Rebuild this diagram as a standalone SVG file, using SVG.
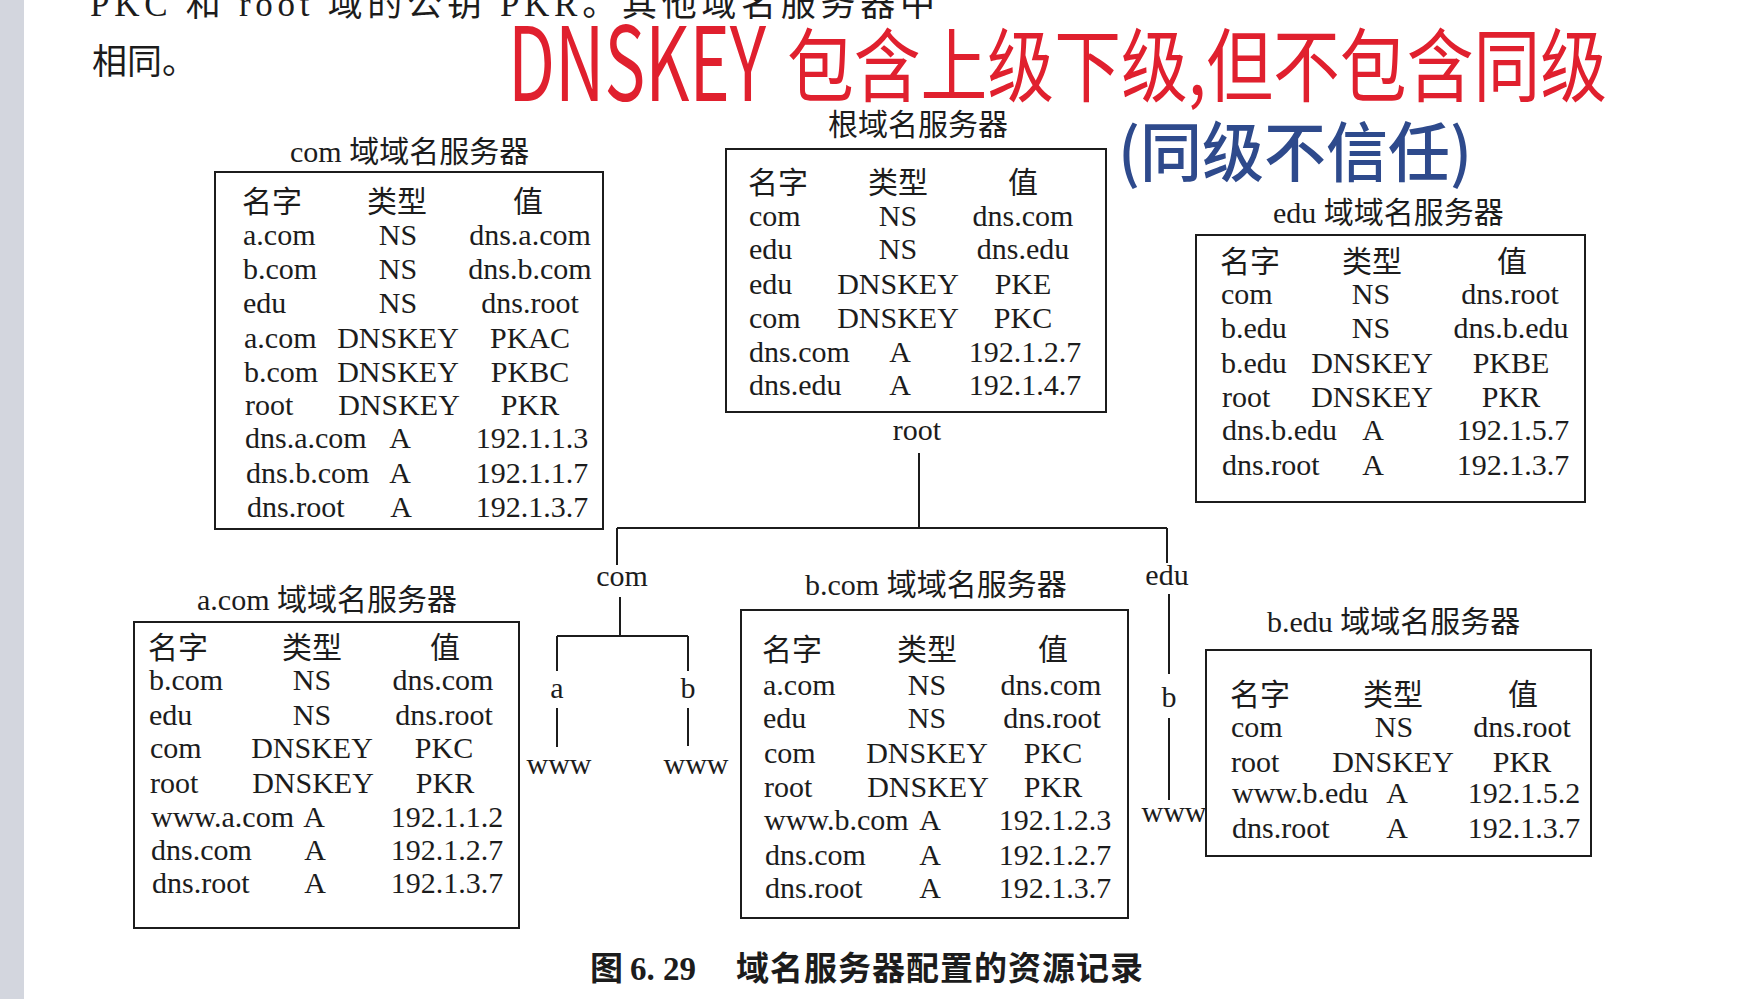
<svg xmlns="http://www.w3.org/2000/svg" width="1762" height="999" viewBox="0 0 1762 999">
  <style>
    .p { font-family: "Liberation Serif", "Noto Sans CJK SC", serif; font-size: 30px; fill: #1c1c1c; }
    .m { text-anchor: middle; }
    .body { font-size: 35px; }
    .num { font-weight: 700; font-size: 33px; }
    .box { fill: none; stroke: #1c1c1c; stroke-width: 2; }
    .ln { fill: none; stroke: #1c1c1c; stroke-width: 2; }
    .cap { font-family: "Noto Sans CJK SC", sans-serif; font-weight: 700; font-size: 33px; fill: #1c1c1c; }
    .red { font-family: "Noto Sans CJK SC", sans-serif; fill: #e0202e; }
    .blue { font-family: "Noto Sans CJK SC", sans-serif; fill: #2e4a8c; font-weight: 500; }
  </style>
  <rect width="1762" height="999" fill="#ffffff"/>
  <rect x="0" y="0" width="24" height="999" fill="#d3d6de"/>

  <!-- running text of the page -->
  <text class="p body" x="90" y="16" textLength="845" lengthAdjust="spacing">PKC 和 root 域的公钥 PKR。其他域名服务器中</text>
  <text class="p body" x="92" y="74">相同。</text>

  <!-- handwritten notes -->
  <text class="red" x="508" y="101" font-size="103" textLength="258" lengthAdjust="spacingAndGlyphs">DNSKEY</text>
  <text class="red" x="787" y="95" font-size="80" textLength="820" lengthAdjust="spacingAndGlyphs">包含上级下级,但不包含同级</text>
  <text class="blue" x="1118" y="176" font-size="65" textLength="354" lengthAdjust="spacingAndGlyphs">(同级不信任)</text>

  <!-- tree connectors -->
  <g id="connectors">
    <path class="ln" d="M919 453 V528 M617 528 H1167 M617 528 V565 M620 597 V636 M557 636 H688 M557 636 V671 M688 636 V671 M557 708 V747 M688 708 V746 M1167 528 V563 M1169 594 V674 M1169 718 V800"/>
    <text class="p m" x="917" y="440">root</text>
    <text class="p m" x="622" y="586">com</text>
    <text class="p m" x="557" y="698">a</text>
    <text class="p m" x="688" y="698">b</text>
    <text class="p m" x="559" y="774">www</text>
    <text class="p m" x="696" y="774">www</text>
    <text class="p m" x="1167" y="585">edu</text>
    <text class="p m" x="1169" y="707">b</text>
    <text class="p m" x="1174" y="822">www</text>
  </g>

  <!-- root name server -->
  <g id="root-server">
    <text class="p" x="828" y="135">根域名服务器</text>
    <rect class="box" x="726" y="149" width="380" height="263"/>
    <text class="p" x="748" y="193">名字</text><text class="p" x="868" y="193">类型</text><text class="p" x="1008" y="193">值</text>
    <text class="p" x="749" y="226">com</text><text class="p m" x="898" y="226">NS</text><text class="p m" x="1023" y="226">dns.com</text>
    <text class="p" x="749" y="259">edu</text><text class="p m" x="898" y="259">NS</text><text class="p m" x="1023" y="259">dns.edu</text>
    <text class="p" x="749" y="294">edu</text><text class="p m" x="898" y="294">DNSKEY</text><text class="p m" x="1023" y="294">PKE</text>
    <text class="p" x="749" y="328">com</text><text class="p m" x="898" y="328">DNSKEY</text><text class="p m" x="1023" y="328">PKC</text>
    <text class="p" x="749" y="362">dns.com</text><text class="p m" x="900" y="362">A</text><text class="p m" x="1025" y="362">192.1.2.7</text>
    <text class="p" x="749" y="395">dns.edu</text><text class="p m" x="900" y="395">A</text><text class="p m" x="1025" y="395">192.1.4.7</text>
  </g>

  <!-- com name server -->
  <g id="com-server">
    <text class="p" x="290" y="162">com 域域名服务器</text>
    <rect class="box" x="215" y="172" width="388" height="357"/>
    <text class="p" x="242" y="212">名字</text><text class="p" x="367" y="212">类型</text><text class="p" x="513" y="212">值</text>
    <text class="p" x="243" y="245">a.com</text><text class="p m" x="398" y="245">NS</text><text class="p m" x="530" y="245">dns.a.com</text>
    <text class="p" x="243" y="279">b.com</text><text class="p m" x="398" y="279">NS</text><text class="p m" x="530" y="279">dns.b.com</text>
    <text class="p" x="243" y="313">edu</text><text class="p m" x="398" y="313">NS</text><text class="p m" x="530" y="313">dns.root</text>
    <text class="p" x="244" y="348">a.com</text><text class="p m" x="398" y="348">DNSKEY</text><text class="p m" x="530" y="348">PKAC</text>
    <text class="p" x="244" y="382">b.com</text><text class="p m" x="398" y="382">DNSKEY</text><text class="p m" x="530" y="382">PKBC</text>
    <text class="p" x="245" y="415">root</text><text class="p m" x="399" y="415">DNSKEY</text><text class="p m" x="530" y="415">PKR</text>
    <text class="p" x="245" y="448">dns.a.com</text><text class="p m" x="400" y="448">A</text><text class="p m" x="532" y="448">192.1.1.3</text>
    <text class="p" x="246" y="483">dns.b.com</text><text class="p m" x="400" y="483">A</text><text class="p m" x="532" y="483">192.1.1.7</text>
    <text class="p" x="247" y="517">dns.root</text><text class="p m" x="401" y="517">A</text><text class="p m" x="532" y="517">192.1.3.7</text>
  </g>

  <!-- edu name server -->
  <g id="edu-server">
    <text class="p" x="1273" y="223">edu 域域名服务器</text>
    <rect class="box" x="1196" y="235" width="389" height="267"/>
    <text class="p" x="1220" y="272">名字</text><text class="p" x="1342" y="272">类型</text><text class="p" x="1497" y="272">值</text>
    <text class="p" x="1221" y="304">com</text><text class="p m" x="1371" y="304">NS</text><text class="p m" x="1510" y="304">dns.root</text>
    <text class="p" x="1221" y="338">b.edu</text><text class="p m" x="1371" y="338">NS</text><text class="p m" x="1511" y="338">dns.b.edu</text>
    <text class="p" x="1221" y="373">b.edu</text><text class="p m" x="1372" y="373">DNSKEY</text><text class="p m" x="1511" y="373">PKBE</text>
    <text class="p" x="1222" y="407">root</text><text class="p m" x="1372" y="407">DNSKEY</text><text class="p m" x="1511" y="407">PKR</text>
    <text class="p" x="1222" y="440">dns.b.edu</text><text class="p m" x="1373" y="440">A</text><text class="p m" x="1513" y="440">192.1.5.7</text>
    <text class="p" x="1222" y="475">dns.root</text><text class="p m" x="1373" y="475">A</text><text class="p m" x="1513" y="475">192.1.3.7</text>
  </g>

  <!-- a.com name server -->
  <g id="acom-server">
    <text class="p" x="197" y="610">a.com 域域名服务器</text>
    <rect class="box" x="134" y="622" width="385" height="306"/>
    <text class="p" x="148" y="658">名字</text><text class="p" x="282" y="658">类型</text><text class="p" x="430" y="658">值</text>
    <text class="p" x="149" y="690">b.com</text><text class="p m" x="312" y="690">NS</text><text class="p m" x="443" y="690">dns.com</text>
    <text class="p" x="149" y="725">edu</text><text class="p m" x="312" y="725">NS</text><text class="p m" x="444" y="725">dns.root</text>
    <text class="p" x="150" y="758">com</text><text class="p m" x="312" y="758">DNSKEY</text><text class="p m" x="444" y="758">PKC</text>
    <text class="p" x="150" y="793">root</text><text class="p m" x="313" y="793">DNSKEY</text><text class="p m" x="445" y="793">PKR</text>
    <text class="p" x="151" y="827">www.a.com</text><text class="p m" x="314" y="827">A</text><text class="p m" x="447" y="827">192.1.1.2</text>
    <text class="p" x="151" y="860">dns.com</text><text class="p m" x="315" y="860">A</text><text class="p m" x="447" y="860">192.1.2.7</text>
    <text class="p" x="152" y="893">dns.root</text><text class="p m" x="315" y="893">A</text><text class="p m" x="447" y="893">192.1.3.7</text>
  </g>

  <!-- b.com name server -->
  <g id="bcom-server">
    <text class="p" x="805" y="595">b.com 域域名服务器</text>
    <rect class="box" x="741" y="610" width="387" height="308"/>
    <text class="p" x="762" y="660">名字</text><text class="p" x="897" y="660">类型</text><text class="p" x="1038" y="660">值</text>
    <text class="p" x="763" y="695">a.com</text><text class="p m" x="927" y="695">NS</text><text class="p m" x="1051" y="695">dns.com</text>
    <text class="p" x="763" y="728">edu</text><text class="p m" x="927" y="728">NS</text><text class="p m" x="1052" y="728">dns.root</text>
    <text class="p" x="764" y="763">com</text><text class="p m" x="927" y="763">DNSKEY</text><text class="p m" x="1053" y="763">PKC</text>
    <text class="p" x="764" y="797">root</text><text class="p m" x="928" y="797">DNSKEY</text><text class="p m" x="1053" y="797">PKR</text>
    <text class="p" x="764" y="830">www.b.com</text><text class="p m" x="930" y="830">A</text><text class="p m" x="1055" y="830">192.1.2.3</text>
    <text class="p" x="765" y="865">dns.com</text><text class="p m" x="930" y="865">A</text><text class="p m" x="1055" y="865">192.1.2.7</text>
    <text class="p" x="765" y="898">dns.root</text><text class="p m" x="930" y="898">A</text><text class="p m" x="1055" y="898">192.1.3.7</text>
  </g>

  <!-- b.edu name server -->
  <g id="bedu-server">
    <text class="p" x="1267" y="632">b.edu 域域名服务器</text>
    <rect class="box" x="1206" y="650" width="385" height="206"/>
    <text class="p" x="1230" y="705">名字</text><text class="p" x="1363" y="705">类型</text><text class="p" x="1508" y="705">值</text>
    <text class="p" x="1231" y="737">com</text><text class="p m" x="1394" y="737">NS</text><text class="p m" x="1522" y="737">dns.root</text>
    <text class="p" x="1231" y="772">root</text><text class="p m" x="1393" y="772">DNSKEY</text><text class="p m" x="1522" y="772">PKR</text>
    <text class="p" x="1232" y="803">www.b.edu</text><text class="p m" x="1397" y="803">A</text><text class="p m" x="1524" y="803">192.1.5.2</text>
    <text class="p" x="1232" y="838">dns.root</text><text class="p m" x="1397" y="838">A</text><text class="p m" x="1524" y="838">192.1.3.7</text>
  </g>

  <!-- figure caption -->
  <text class="cap" x="590" y="980">图</text>
  <text class="p num" x="630" y="980">6. 29</text>
  <text class="cap" x="736" y="980" textLength="407" lengthAdjust="spacing">域名服务器配置的资源记录</text>
</svg>
